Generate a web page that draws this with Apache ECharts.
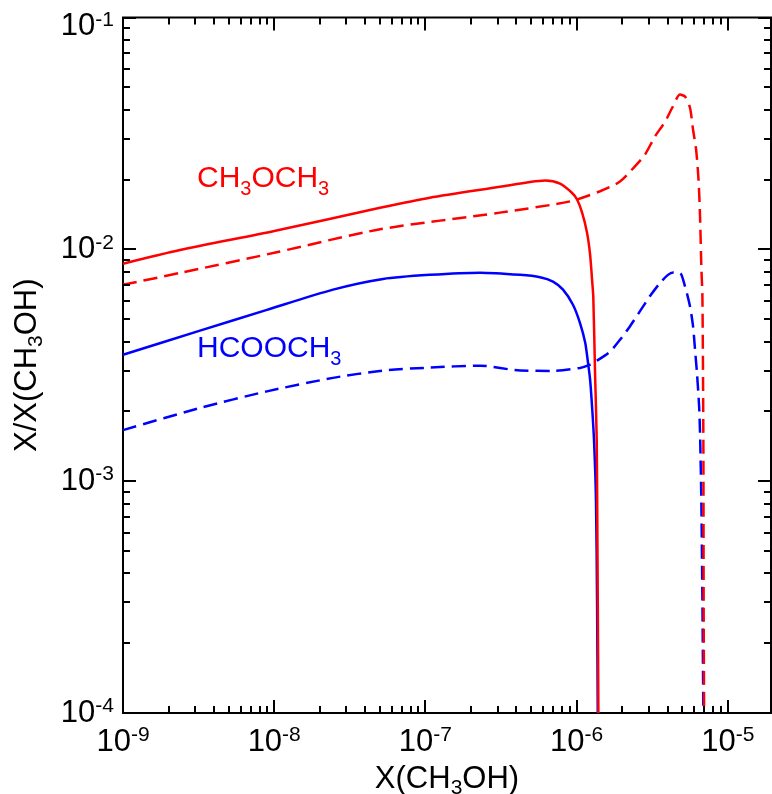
<!DOCTYPE html>
<html>
<head>
<meta charset="utf-8">
<script src="https://cdn.jsdelivr.net/npm/echarts@6/dist/echarts.min.js"></script>
<style>
html,body{margin:0;padding:0;background:#fff;}
#chart{width:772px;height:794px;}
</style>
</head>
<body>
<div id="chart"></div>
<script>
// ---- axis ranges ----
const X_MIN = 1e-9, X_MAX = 1.93e-5;
const Y_MIN = 1e-4, Y_MAX = 1e-1;

// ---- tick values ----
const xDecades = [1e-9, 1e-8, 1e-7, 1e-6, 1e-5];
const yDecades = [1e-4, 1e-3, 1e-2, 1e-1];
const minorMultipliers = [2, 3, 4, 5, 6, 7, 8, 9];

// ---- data: [X(CH3OH), X/X(CH3OH)] ----
const ch3och3Solid = [
  [1.0e-9, 8.67e-3], [2.38e-9, 9.93e-3], [1.0e-8, 1.20e-2], [5.01e-8, 1.51e-2],
  [1.07e-7, 1.67e-2], [3.11e-7, 1.86e-2], [4.92e-7, 1.95e-2], [6.18e-7, 1.98e-2],
  [7.76e-7, 1.92e-2], [9.34e-7, 1.75e-2], [1.007e-6, 1.64e-2], [1.087e-6, 1.44e-2],
  [1.172e-6, 1.18e-2], [1.228e-6, 9.49e-3], [1.265e-6, 7.40e-3], [1.289e-6, 6.24e-3],
  [1.324e-6, 2.93e-3], [1.358e-6, 1.51e-3], [1.374e-6, 5.05e-4], [1.386e-6, 1.87e-4],
  [1.393e-6, 1.0e-4]
];
const ch3och3Dashed = [
  [1.0e-9, 7.03e-3], [2.38e-9, 7.91e-3], [1.0e-8, 9.66e-3], [5.01e-8, 1.22e-2],
  [3.11e-7, 1.44e-2], [9.04e-7, 1.61e-2], [1.429e-6, 1.78e-2], [1.935e-6, 1.96e-2],
  [2.43e-6, 2.28e-2], [2.83e-6, 2.56e-2], [3.30e-6, 3.07e-2], [3.85e-6, 3.56e-2],
  [4.28e-6, 4.07e-2], [4.83e-6, 4.65e-2], [5.21e-6, 4.56e-2], [5.62e-6, 4.08e-2],
  [5.89e-6, 3.28e-2], [6.17e-6, 2.69e-2], [6.40e-6, 2.00e-2], [6.55e-6, 1.39e-2],
  [6.68e-6, 8.43e-3], [6.79e-6, 6.27e-3], [6.89e-6, 1.51e-3], [6.92e-6, 3.08e-4],
  [6.97e-6, 1.0e-4]
];
const hcooch3Solid = [
  [1.0e-9, 3.51e-3], [3.23e-9, 4.46e-3], [8.95e-9, 5.48e-3], [2.45e-8, 6.70e-3],
  [5.25e-8, 7.45e-3], [1.07e-7, 7.76e-3], [2.30e-7, 7.93e-3], [4.23e-7, 7.76e-3],
  [5.73e-7, 7.58e-3], [6.98e-7, 7.26e-3], [8.13e-7, 6.70e-3], [9.46e-7, 5.77e-3],
  [1.052e-6, 4.82e-3], [1.139e-6, 3.96e-3], [1.189e-6, 3.25e-3], [1.228e-6, 2.74e-3],
  [1.265e-6, 2.10e-3], [1.303e-6, 1.51e-3], [1.343e-6, 8.30e-4], [1.365e-6, 3.08e-4],
  [1.380e-6, 1.0e-4]
];
const hcooch3Dashed = [
  [1.0e-9, 1.66e-3], [3.23e-9, 2.07e-3], [8.95e-9, 2.44e-3], [2.45e-8, 2.79e-3],
  [5.25e-8, 3.00e-3], [1.07e-7, 3.09e-3], [2.30e-7, 3.15e-3], [4.23e-7, 3.00e-3],
  [6.98e-7, 2.99e-3], [1.052e-6, 3.08e-3], [1.228e-6, 3.18e-3], [1.365e-6, 3.31e-3],
  [1.663e-6, 3.62e-3], [1.935e-6, 4.07e-3], [2.25e-6, 4.65e-3], [2.62e-6, 5.40e-3],
  [3.05e-6, 6.27e-3], [3.56e-6, 7.16e-3], [4.02e-6, 7.76e-3], [4.35e-6, 7.94e-3],
  [4.83e-6, 7.91e-3], [5.21e-6, 6.92e-3], [5.62e-6, 5.68e-3], [5.89e-6, 4.65e-3],
  [6.07e-6, 3.69e-3], [6.25e-6, 2.93e-3], [6.46e-6, 2.10e-3], [6.55e-6, 1.61e-3],
  [6.68e-6, 8.30e-4], [6.79e-6, 3.08e-4], [6.89e-6, 1.0e-4]
];

function minorsOf(decades, maxV) {
  const out = [];
  decades.forEach(d => minorMultipliers.forEach(m => { const v = m * d; if (v < maxV * 0.999) out.push(v); }));
  return out;
}
const xMinorTicks = minorsOf(xDecades, X_MAX);
const yMinorTicks = minorsOf(yDecades.slice(0, 3), Y_MAX);

const FONT = '"Liberation Sans", Arial, Helvetica, sans-serif';
const RED = '#ff0000', BLUE = '#0000ff';

function isDecade(v) {
  const l = Math.log10(v);
  return Math.abs(l - Math.round(l)) < 1e-6;
}
const tickRich = {
  b: { fontFamily: FONT, fontSize: 31, lineHeight: 34, color: '#000' },
  s: { fontFamily: FONT, fontSize: 21, lineHeight: 20, verticalAlign: 'top', color: '#000' },
  gap: { fontSize: 10, lineHeight: 18 }
};
const nameRich = {
  n: { fontFamily: FONT, fontSize: 31, lineHeight: 40, color: '#000' },
  sub: { fontFamily: FONT, fontSize: 21, lineHeight: 20, verticalAlign: 'bottom', color: '#000' }
};
const annotations = [
  { type: 'text', left: 197, top: 164, z: 10, style: {
    text: '{n|CH}{sub|3}{n|OCH}{sub|3}', fill: RED,
    rich: {
      n: { fontFamily: FONT, fontSize: 30, lineHeight: 40, fill: RED },
      sub: { fontFamily: FONT, fontSize: 20, lineHeight: 20, verticalAlign: 'bottom', fill: RED }
    } } },
  { type: 'text', left: 197, top: 334, z: 10, style: {
    text: '{n|HCOOCH}{sub|3}', fill: BLUE,
    rich: {
      n: { fontFamily: FONT, fontSize: 30, lineHeight: 40, fill: BLUE },
      sub: { fontFamily: FONT, fontSize: 20, lineHeight: 20, verticalAlign: 'bottom', fill: BLUE }
    } } }
];
const lineSmooth = 0.25;

const chart = echarts.init(document.getElementById('chart'), null, { renderer: 'canvas' });
chart.setOption({
  animation: false,
  backgroundColor: '#fff',
  grid: { left: 123, right: 1, top: 17.5, bottom: 81, containLabel: false, outerBoundsMode: 'none',
    show: true, borderColor: '#000', borderWidth: 2, backgroundColor: 'transparent' },
  xAxis: {
    type: 'log', logBase: 10, min: X_MIN, max: X_MAX,
    axisLine: { show: false }, axisTick: { show: false }, splitLine: { show: false }, minorTick: { show: false },
    axisLabel: {
      margin: 12,
      formatter: v => isDecade(v) ? '{b|10}{s|' + Math.round(Math.log10(v)) + '}' : '',
      rich: tickRich
    },
    name: '{n|X(CH}{sub|3}{n|OH)}',
    nameLocation: 'middle', nameGap: 46,
    nameTextStyle: { rich: nameRich }
  },
  yAxis: {
    type: 'log', logBase: 10, min: Y_MIN, max: Y_MAX,
    axisLine: { show: false }, axisTick: { show: false }, splitLine: { show: false }, minorTick: { show: false },
    axisLabel: {
      margin: 9,
      formatter: v => {
        if (!isDecade(v)) return '';
        const e = Math.round(Math.log10(v));
        const s = '{b|10}{s|' + e + '}';
        return e === -1 ? '{gap| }\n' + s : s;
      },
      rich: tickRich
    },
    name: '{n|X/X(CH}{sub|3}{n|OH)}',
    nameLocation: 'middle', nameGap: 76, nameRotate: 90,
    nameTextStyle: { rich: nameRich }
  },
  graphic: annotations,
  series: [
    { type: 'line', name: 'HCOOCH3 dashed', data: hcooch3Dashed, showSymbol: false, symbol: 'none',
      smooth: lineSmooth, lineStyle: { color: BLUE, width: 2.5, type: [14, 7] }, z: 2 },
    { type: 'line', name: 'HCOOCH3', data: hcooch3Solid, showSymbol: false, symbol: 'none',
      smooth: lineSmooth, lineStyle: { color: BLUE, width: 2.5 }, z: 2 },
    { type: 'line', name: 'CH3OCH3 dashed', data: ch3och3Dashed, showSymbol: false, symbol: 'none',
      smooth: lineSmooth, lineStyle: { color: RED, width: 2.5, type: [14, 7] }, z: 3 },
    { type: 'line', name: 'CH3OCH3', data: ch3och3Solid, showSymbol: false, symbol: 'none',
      smooth: lineSmooth, lineStyle: { color: RED, width: 2.5 }, z: 3 }
  ]
});

// ---- inward ticks on all four sides, positioned through the chart's own scales ----
const rect = chart.getModel().getComponent('grid', 0).coordinateSystem.getRect();
const tickEls = [];
function tickLine(x1, y1, x2, y2) {
  tickEls.push({ type: 'line', z: 20, silent: true,
    shape: { x1: x1, y1: y1, x2: x2, y2: y2 }, style: { stroke: '#000', lineWidth: 2 } });
}
function addXTicks(values, len) {
  values.forEach(v => {
    const px = Math.round(chart.convertToPixel({ gridIndex: 0 }, [v, Y_MIN])[0]);
    tickLine(px, rect.y + rect.height, px, rect.y + rect.height - len);
    tickLine(px, rect.y, px, rect.y + len);
  });
}
function addYTicks(values, len) {
  values.forEach(v => {
    const py = Math.round(chart.convertToPixel({ gridIndex: 0 }, [X_MIN, v])[1]);
    tickLine(rect.x, py, rect.x + len, py);
    tickLine(rect.x + rect.width, py, rect.x + rect.width - len, py);
  });
}
addXTicks(xDecades, 13);
addXTicks(xMinorTicks, 7);
addYTicks(yDecades, 13);
addYTicks(yMinorTicks, 7);
chart.setOption({ graphic: annotations.concat(tickEls) });
</script>
</body>
</html>
